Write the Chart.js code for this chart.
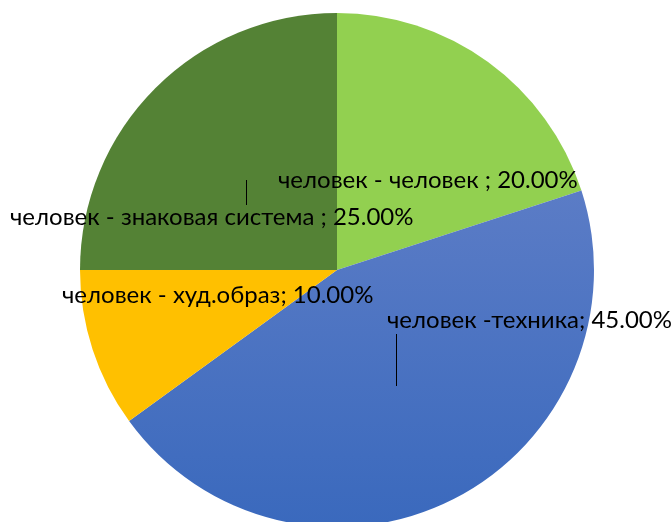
<!DOCTYPE html>
<html>
<head>
<meta charset="utf-8">
<script src="https://cdn.jsdelivr.net/npm/chart.js@4"></script>
<style>
  html, body { margin: 0; padding: 0; background: #fff; overflow: hidden; }
  #wrap { width: 672px; height: 540px; position: relative; }
</style>
</head>
<body>
<div id="wrap"><canvas id="pieChart"></canvas></div>
<script>
// chart data
const categories = ['человек - человек ', 'человек -техника', 'человек - худ.образ', 'человек - знаковая система '];
const shares = [0.20, 0.45, 0.10, 0.25];
const colors = ['#92D050', 'blue-gradient', '#FFC000', '#548235'];

// label placement (Excel-style manual placement) and leader lines
const labelPos = [
    { x: 278, y: 188, line: null },
    { x: 387, y: 328, line: [396, 334, 396, 386] },
    { x: 62, y: 303, line: null },
    { x: 10, y: 225, line: [246, 180, 246, 205] }
];

const fmtPct = v => (v * 100).toFixed(2) + '%';

const labelPlugin = {
    id: 'pieLabels',
    afterDatasetsDraw(chart) {
        const ctx = chart.ctx;
        ctx.save();
        ctx.font = '24px Lato';
        ctx.fillStyle = '#000';
        ctx.textBaseline = 'alphabetic';
        ctx.textAlign = 'left';
        chart.data.labels.forEach((lab, i) => {
            const p = labelPos[i];
            ctx.fillText(lab + '; ' + fmtPct(chart.data.datasets[0].data[i]), p.x, p.y);
            if (p.line) {
                ctx.strokeStyle = '#000';
                ctx.lineWidth = 1;
                ctx.beginPath();
                ctx.moveTo(p.line[0] + 0.5, p.line[1]);
                ctx.lineTo(p.line[2] + 0.5, p.line[3]);
                ctx.stroke();
            }
        });
        ctx.restore();
    }
};

const ctx = document.getElementById('pieChart').getContext('2d');

function sliceColor(c) {
    if (c !== 'blue-gradient') return c;
    const g = ctx.createLinearGradient(0, 190, 0, 527);
    g.addColorStop(0, '#5B7CC6');
    g.addColorStop(1, '#3A69BD');
    return g;
}

new Chart(ctx, {
    type: 'pie',
    data: {
        labels: categories,
        datasets: [{
            data: shares,
            backgroundColor: colors.map(sliceColor),
            borderWidth: 0
        }]
    },
    options: {
        responsive: true,
        maintainAspectRatio: false,
        animation: false,
        layout: { padding: { left: 80, right: 78, top: 13, bottom: 13 } },
        plugins: {
            legend: { display: false },
            tooltip: { enabled: false },
            title: { display: false }
        }
    },
    plugins: [labelPlugin]
});
</script>
</body>
</html>
